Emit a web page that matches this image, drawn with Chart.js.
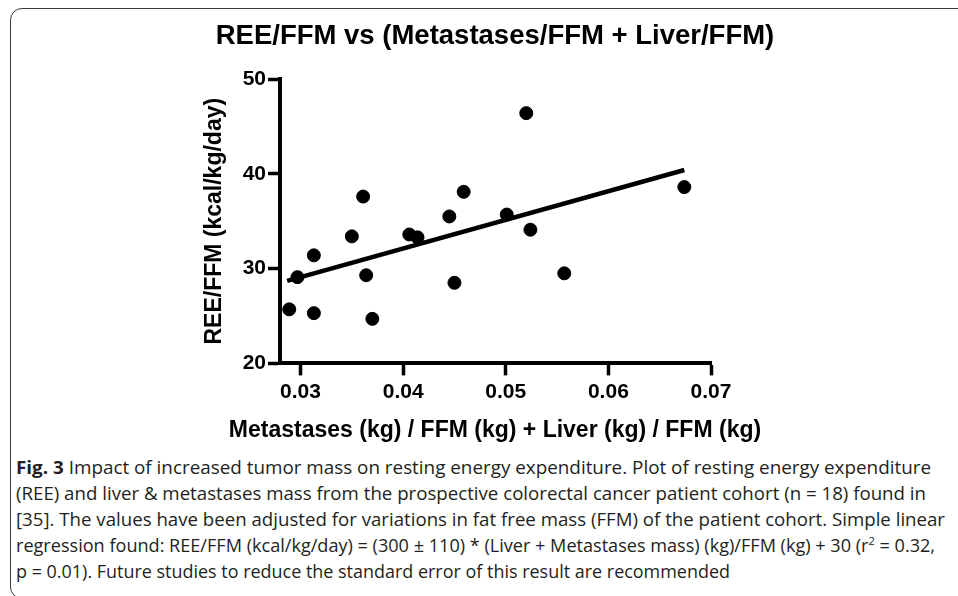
<!DOCTYPE html>
<html>
<head>
<meta charset="utf-8">
<script src="https://cdn.jsdelivr.net/npm/chart.js@4.4.1/dist/chart.umd.min.js"></script>
<style>
    body { margin: 0; background: #fff; width: 958px; height: 596px; overflow: hidden; position: relative; }
    #frame { position: absolute; left: 10px; top: 8px; width: 1000px; height: 589px; border: 1.5px solid #3a3a3a; border-radius: 12px; }
    #mychart { position: absolute; left: 0; top: 0; }
    #caption { position: absolute; left: 16px; top: 454px; font-family: 'Open Sans', sans-serif; font-size: 18px; color: #231f20; }
    #caption div { height: 26px; line-height: 26px; white-space: nowrap; transform-origin: left center; width: max-content; }
    #caption b { font-weight: 700; }
    sup { font-size: 11px; line-height: 0; }
</style>
</head>
<body>
<div id="frame"></div>
<canvas id="mychart" width="958" height="450"></canvas>
<div id="caption">
    <div><b>Fig. 3</b> Impact of increased tumor mass on resting energy expenditure. Plot of resting energy expenditure</div>
    <div>(REE) and liver &amp; metastases mass from the prospective colorectal cancer patient cohort (n = 18) found in</div>
    <div>[35]. The values have been adjusted for variations in fat free mass (FFM) of the patient cohort. Simple linear</div>
    <div>regression found: REE/FFM (kcal/kg/day) = (300 ± 110) * (Liver + Metastases mass) (kg)/FFM (kg) + 30 (r<sup>2</sup> = 0.32,</div>
    <div>p = 0.01). Future studies to reduce the standard error of this result are recommended</div>
</div>
<script>
/* global Chart */
// patient values: liver + metastases mass / FFM and REE/FFM
const massRatio = [0.0289, 0.0297, 0.0313, 0.0313, 0.0350, 0.0361, 0.0364, 0.0370, 0.0406,
                   0.0414, 0.0445, 0.0450, 0.0459, 0.0501, 0.0520, 0.0524, 0.0557, 0.0674];
const reeFfm = [25.7, 29.1, 31.4, 25.3, 33.4, 37.6, 29.3, 24.7, 33.6,
                33.3, 35.5, 28.5, 38.1, 35.7, 46.4, 34.1, 29.5, 38.6];

// regression line ends
const fitX = [0.0287, 0.0674];
const fitY = [28.7, 40.4];

const xTicks = [0.03, 0.04, 0.05, 0.06, 0.07];
const yTicks = [20, 30, 40, 50];

const points = massRatio.map((x, i) => ({ x: x, y: reeFfm[i] }));
const fitLine = fitX.map((x, i) => ({ x: x, y: fitY[i] }));

const font = "'Liberation Sans', Arial, sans-serif";

const ctx = document.getElementById('mychart').getContext('2d');
const myChart = new Chart(ctx, {
    type: 'scatter',
    data: {
        datasets: [{
            label: 'Patients',
            data: points,
            backgroundColor: '#000',
            borderColor: '#000',
            pointRadius: 6.5,
            borderWidth: 1
        }, {
            label: 'Linear regression',
            type: 'line',
            data: fitLine,
            borderColor: '#000',
            borderWidth: 4.5,
            pointRadius: 0,
            fill: false
        }]
    },
    options: {
        responsive: false,
        animation: false,
        layout: { padding: { left: 32, right: 0, top: 0, bottom: 0 } },
        plugins: {
            legend: { display: false },
            tooltip: { enabled: false },
            title: {
                display: true,
                text: 'REE/FFM vs (Metastases/FFM + Liver/FFM)',
                color: '#000',
                font: { family: font, size: 27.5, weight: 'bold' },
                padding: { top: 20, bottom: 26 }
            },
            // x axis title, drawn as a bottom subtitle so it is not squeezed to the plot width
            subtitle: {
                display: true,
                position: 'bottom',
                text: 'Metastases (kg) / FFM (kg) + Liver (kg) / FFM (kg)',
                color: '#000',
                font: { family: font, size: 23, weight: 'bold' },
                padding: { top: 0, bottom: 6 }
            }
        },
        scales: {
            x: {
                type: 'linear',
                min: 0.028,
                max: 0.07,
                afterBuildTicks: (scale) => { scale.ticks = xTicks.map(v => ({ value: v })); },
                afterFit: (scale) => { scale.height = 53; },
                border: { color: '#000', width: 4 },
                grid: { drawOnChartArea: false, tickLength: 12, tickWidth: 3.5, tickColor: '#000' },
                ticks: {
                    color: '#000',
                    padding: 4,
                    font: { family: font, size: 21, weight: 'bold' },
                    callback: (v) => v.toFixed(2)
                }
            },
            y: {
                min: 20,
                max: 50,
                afterBuildTicks: (scale) => { scale.ticks = yTicks.map(v => ({ value: v })); },
                afterFit: (scale) => { scale.width = 248; },
                border: { color: '#000', width: 4 },
                grid: { drawOnChartArea: false, tickLength: 12, tickWidth: 3.5, tickColor: '#000' },
                ticks: {
                    color: '#000',
                    padding: 2,
                    font: { family: font, size: 21, weight: 'bold' }
                },
                title: {
                    display: true,
                    text: 'REE/FFM (kcal/kg/day)',
                    color: '#000',
                    font: { family: font, size: 23, weight: 'bold' },
                    padding: { top: 169, bottom: 0 }
                }
            },
            // empty space on the right of the plot
            spacer: {
                axis: 'y',
                position: 'right',
                afterFit: (scale) => { scale.width = 247; },
                border: { display: false },
                grid: { display: false },
                ticks: { display: false }
            }
        }
    }
});

// squeeze each caption line to the width it has in the figure
const lineWidths = [915, 910, 929, 919, 714];
document.querySelectorAll('#caption div').forEach((el, i) => {
    const w = el.getBoundingClientRect().width;
    el.style.transform = 'scaleX(' + (lineWidths[i] / w) + ')';
});
</script>
</body>
</html>
